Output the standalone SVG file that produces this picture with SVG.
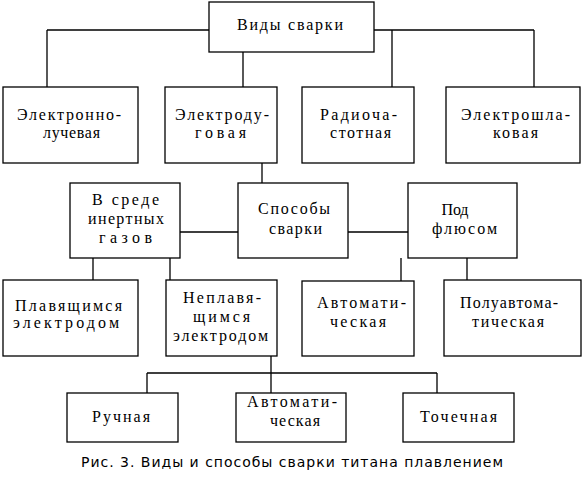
<svg xmlns="http://www.w3.org/2000/svg" width="585" height="480" viewBox="0 0 585 480">
<style>
.box{fill:none;stroke:#000;stroke-width:1.3}
.c{fill:none;stroke:#000;stroke-width:1.3}
.t text{font-family:'Liberation Serif','Times New Roman',serif;font-size:16px;fill:#000;text-anchor:middle}
.cap{font-family:'DejaVu Sans','Noto Sans',sans-serif;font-size:14px;fill:#000;text-anchor:middle}
</style>
<rect width="585" height="480" fill="#fff"/>
<g id="connectors">
<path class="c" d="M47 30H209M374 30H534M47 30V87M243 52V87M392 30V87M534 30V87"/>
<path class="c" d="M262 163V183"/>
<path class="c" d="M180 232H238M348 232H408"/>
<path class="c" d="M93 258V280M170 258V280M401 258V281M467 258V280"/>
<path class="c" d="M271 356V393M147 373H437M147 373V393M437 373V393"/>
</g>
<g class="t">
<g id="n-vidy"><rect class="box" x="209" y="2" width="165" height="50"/><text x="290" y="30" textLength="106" lengthAdjust="spacing">Виды сварки</text></g>
<g id="n-eluch"><rect class="box" x="3" y="87" width="135" height="76"/><text x="69" y="120" textLength="104" lengthAdjust="spacing">Электронно-</text><text x="71.5" y="138" textLength="57" lengthAdjust="spacing">лучевая</text></g>
<g id="n-eduga"><rect class="box" x="165" y="87" width="112" height="76"/><text x="222" y="120" textLength="94" lengthAdjust="spacing">Электроду-</text><text x="220.5" y="138" textLength="51" lengthAdjust="spacing">говая</text></g>
<g id="n-radio"><rect class="box" x="302" y="87" width="112" height="76"/><text x="358.5" y="120" textLength="77" lengthAdjust="spacing">Радиоча-</text><text x="360.5" y="138" textLength="61" lengthAdjust="spacing">стотная</text></g>
<g id="n-eshlak"><rect class="box" x="446" y="87" width="134" height="76"/><text x="515.5" y="120" textLength="109" lengthAdjust="spacing">Электрошла-</text><text x="515.5" y="138" textLength="45" lengthAdjust="spacing">ковая</text></g>
<g id="n-inert"><rect class="box" x="70" y="183" width="110" height="75"/><text x="125.5" y="205" textLength="67" lengthAdjust="spacing">В среде</text><text x="126" y="224" textLength="76" lengthAdjust="spacing">инертных</text><text x="125.5" y="243" textLength="53" lengthAdjust="spacing">газов</text></g>
<g id="n-sposoby"><rect class="box" x="238" y="183" width="110" height="75"/><text x="294" y="214" textLength="72" lengthAdjust="spacing">Способы</text><text x="295.5" y="234" textLength="53" lengthAdjust="spacing">сварки</text></g>
<g id="n-flus"><rect class="box" x="408" y="183" width="109" height="75"/><text x="455" y="215" textLength="27" lengthAdjust="spacing">Под</text><text x="464.5" y="234" textLength="65" lengthAdjust="spacing">флюсом</text></g>
<g id="n-plav"><rect class="box" x="3" y="280" width="135" height="76"/><text x="68.5" y="311" textLength="107" lengthAdjust="spacing">Плавящимся</text><text x="66" y="328" textLength="106" lengthAdjust="spacing">электродом</text></g>
<g id="n-neplav"><rect class="box" x="166" y="280" width="111" height="76"/><text x="222" y="303" textLength="78" lengthAdjust="spacing">Неплавя-</text><text x="221.5" y="322" textLength="57" lengthAdjust="spacing">щимся</text><text x="220.5" y="341" textLength="95" lengthAdjust="spacing">электродом</text></g>
<g id="n-avto1"><rect class="box" x="302" y="281" width="112" height="75"/><text x="361.5" y="308" textLength="89" lengthAdjust="spacing">Автомати-</text><text x="358" y="327" textLength="56" lengthAdjust="spacing">ческая</text></g>
<g id="n-poluavto"><rect class="box" x="444" y="280" width="137" height="76"/><text x="509" y="308" textLength="98" lengthAdjust="spacing">Полуавтома-</text><text x="508" y="327" textLength="72" lengthAdjust="spacing">тическая</text></g>
<g id="n-ruch"><rect class="box" x="67" y="393" width="111" height="49"/><text x="121" y="422" textLength="58" lengthAdjust="spacing">Ручная</text></g>
<g id="n-avto2"><rect class="box" x="236" y="393" width="110" height="49"/><text x="292" y="407" textLength="90" lengthAdjust="spacing">Автомати-</text><text x="295" y="426" textLength="50" lengthAdjust="spacing">ческая</text></g>
<g id="n-toch"><rect class="box" x="403" y="393" width="111" height="49"/><text x="458.5" y="422" textLength="77" lengthAdjust="spacing">Точечная</text></g>
</g>
<text class="cap" x="292" y="467" textLength="422" lengthAdjust="spacing">Рис. 3. Виды и способы сварки титана плавлением</text>
</svg>
